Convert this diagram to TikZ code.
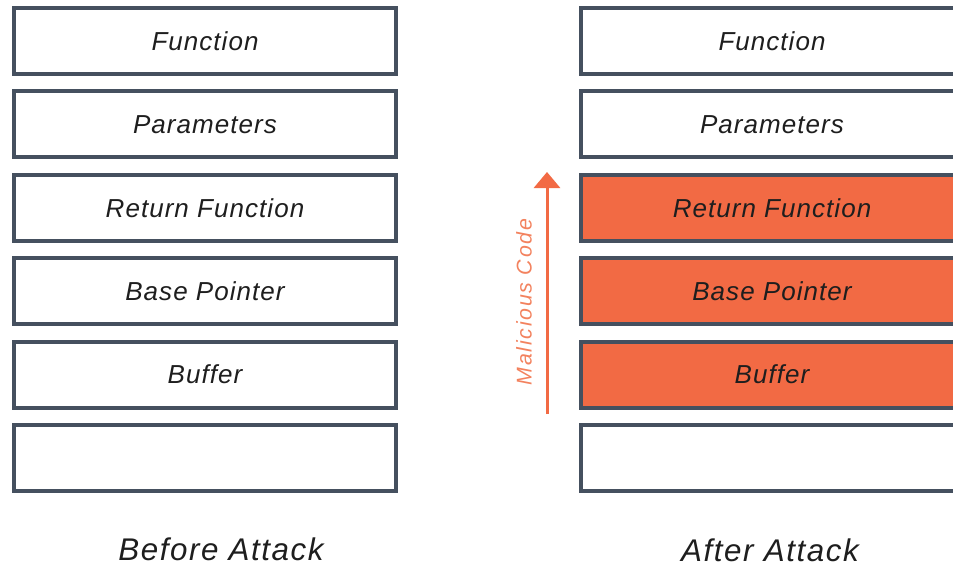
\documentclass[tikz,border=0pt]{standalone}
\usepackage{fontspec}
\usetikzlibrary{arrows.meta}
\newfontfamily\cellfont[LetterSpace=4]{Liberation Sans}
\newfontfamily\capfont[LetterSpace=5]{Liberation Sans}
\newfontfamily\sidefont[LetterSpace=8]{Liberation Sans}
\definecolor{frame}{HTML}{45505F}
\definecolor{hot}{HTML}{F26A44}
\definecolor{hottext}{HTML}{F3825E}
\definecolor{ink}{HTML}{1E1E1E}
\tikzset{
  cell/.style={draw=frame, line width=3pt, fill=white, rectangle, inner sep=0pt,
    minimum width=286.5pt, minimum height=49.5pt,
    font=\cellfont\itshape\fontsize{19.5}{22}\selectfont, text=ink},
  hit/.style={cell, fill=hot},
  caption/.style={font=\capfont\itshape\fontsize{23.5}{27}\selectfont, text=ink},
}
\begin{document}
\begin{tikzpicture}[x=0.75pt,y=-0.75pt]
\useasboundingbox (0,0) rectangle (953,567);
\clip (0,0) rectangle (953,567);
\fill[white] (0,0) rectangle (953,567);
% stack before the attack
\node[cell] (l1) at (205,41) {Function};
\node[cell] (l2) at (205,124.4) {Parameters};
\node[cell] (l3) at (205,207.8) {Return Function};
\node[cell] (l4) at (205,291.2) {Base Pointer};
\node[cell] (l5) at (205,374.6) {Buffer};
\node[cell] (l6) at (205,458) {};
% stack after the attack
\node[cell] (r1) at (772,41) {Function};
\node[cell] (r2) at (772,124.4) {Parameters};
\node[hit] (r3) at (772,207.8) {Return Function};
\node[hit] (r4) at (772,291.2) {Base Pointer};
\node[hit] (r5) at (772,374.6) {Buffer};
\node[cell] (r6) at (772,458) {};
% overflow direction
\coordinate (arrowfoot) at (547,414);
\coordinate (arrowtip) at (547,172);
\draw[hot, line width=2.25pt, -{Triangle[width=19.5pt,length=12pt]}] (arrowfoot) -- (arrowtip);
\node[rotate=90, text=hottext, font=\sidefont\itshape\fontsize{16}{19}\selectfont] (mal) at (524,302) {Malicious Code};
% captions
\node[caption] (before) at (221,549) {Before Attack};
\node[caption] (after) at (770,550) {After Attack};
\end{tikzpicture}
\end{document}
